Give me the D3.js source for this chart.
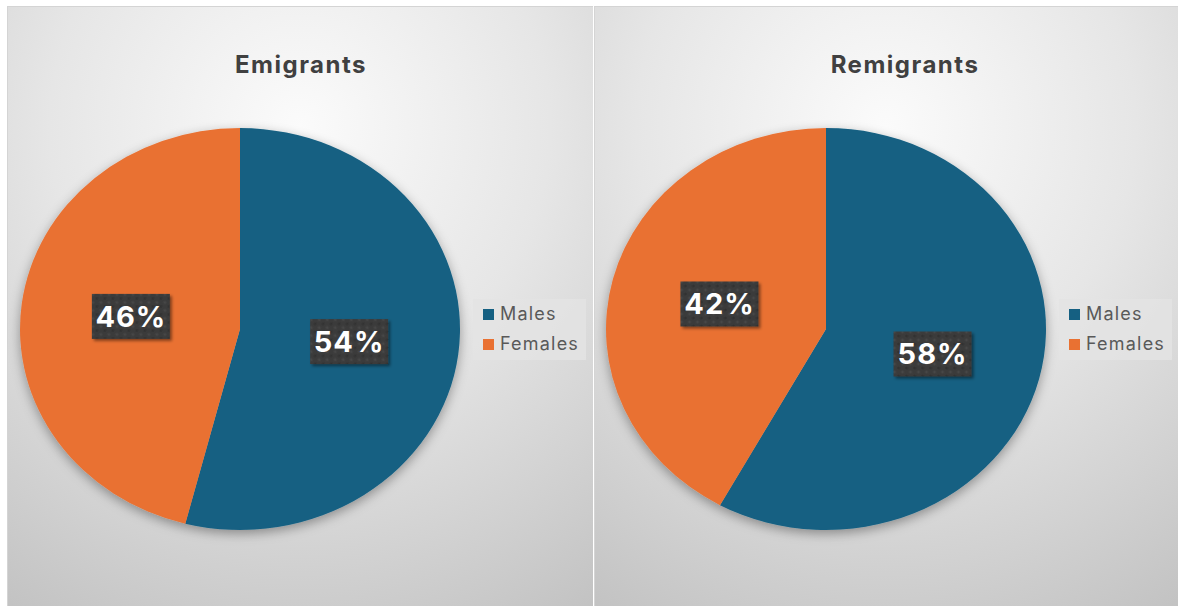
<!DOCTYPE html>
<html>
<head>
<meta charset="utf-8">
<script src="https://cdn.jsdelivr.net/npm/d3@7"></script>
<style>
  html, body { margin: 0; padding: 0; background: #ffffff; }
  svg { display: block; }
  text { font-family: Inter, "Open Sans", "Noto Sans", sans-serif; }
</style>
</head>
<body>
<svg id="chart" width="1178" height="606"></svg>
<script>
// Gender split of emigrants and remigrants
const categories = ["Males", "Females"];
const emigrantShares = [54, 46];
const remigrantShares = [58, 42];
const chartTitles = ["Emigrants", "Remigrants"];
const colors = ["#156082", "#E97132"];

const panels = [
  { title: chartTitles[0], values: emigrantShares, x0: 7, x1: 593, cx: 240, titleX: 301, legendX: 473 },
  { title: chartTitles[1], values: remigrantShares, x0: 594, x1: 1178, cx: 826, titleX: 905, legendX: 1059 }
];

const svg = d3.select("#chart");
const defs = svg.append("defs");

// Panel background gradient
const bg = defs.append("radialGradient")
  .attr("id", "panelBg")
  .attr("cx", "50%").attr("cy", "20%").attr("r", "95%")
  .attr("fx", "50%").attr("fy", "20%");
bg.append("stop").attr("offset", "0%").attr("stop-color", "#fbfbfb");
bg.append("stop").attr("offset", "45%").attr("stop-color", "#e6e6e6");
bg.append("stop").attr("offset", "100%").attr("stop-color", "#c2c2c2");

// Soft shadow under the pies
const pieShadow = defs.append("filter").attr("id", "pieShadow")
  .attr("x", "-20%").attr("y", "-20%").attr("width", "140%").attr("height", "140%");
pieShadow.append("feDropShadow")
  .attr("dx", 0).attr("dy", 4).attr("stdDeviation", 6)
  .attr("flood-color", "#000").attr("flood-opacity", 0.35);

// Shadow for the value labels
const labelShadow = defs.append("filter").attr("id", "labelShadow")
  .attr("x", "-20%").attr("y", "-20%").attr("width", "150%").attr("height", "150%");
labelShadow.append("feDropShadow")
  .attr("dx", 2).attr("dy", 2).attr("stdDeviation", 1.5)
  .attr("flood-color", "#000").attr("flood-opacity", 0.45);

// Textured dark fill for the label boxes
const tex = defs.append("pattern").attr("id", "labelTexture")
  .attr("width", 8).attr("height", 8).attr("patternUnits", "userSpaceOnUse");
tex.append("rect").attr("width", 8).attr("height", 8).attr("fill", "#3b3b3b");
tex.append("circle").attr("cx", 2).attr("cy", 2).attr("r", 1.6).attr("fill", "#464646");
tex.append("circle").attr("cx", 6).attr("cy", 6).attr("r", 1.6).attr("fill", "#333333");

const cy = 329, rx = 220, ry = 201;
const pie = d3.pie().sort(null).value(d => d);
const arc = d3.arc().innerRadius(0).outerRadius(rx);

panels.forEach(p => {
  const g = svg.append("g");

  g.append("rect")
    .attr("x", p.x0).attr("y", 7)
    .attr("width", p.x1 - p.x0).attr("height", 606 - 7)
    .attr("fill", "url(#panelBg)");
  g.append("line")
    .attr("x1", p.x0).attr("x2", p.x1).attr("y1", 6.5).attr("y2", 6.5)
    .attr("stroke", "#d4d4d4").attr("stroke-width", 1);
  g.append("line")
    .attr("x1", p.x0 + 0.5).attr("x2", p.x0 + 0.5).attr("y1", 6).attr("y2", 606)
    .attr("stroke", "#d4d4d4").attr("stroke-width", 1);

  g.append("text")
    .attr("x", p.titleX).attr("y", 73)
    .attr("text-anchor", "middle")
    .attr("font-size", 24).attr("font-weight", 700)
    .attr("letter-spacing", 1.5)
    .attr("fill", "#404040")
    .text(p.title);

  const arcs = pie(p.values);
  const sy = ry / rx;

  const pieG = g.append("g")
    .attr("transform", `translate(${p.cx},${cy}) scale(1,${sy})`)
    .attr("filter", "url(#pieShadow)");
  pieG.selectAll("path")
    .data(arcs)
    .join("path")
    .attr("d", arc)
    .attr("fill", (d, i) => colors[i]);

  // Value labels at half radius along each slice's mid angle
  const labelArc = d3.arc().innerRadius(rx * 0.5).outerRadius(rx * 0.5);
  arcs.forEach((d, i) => {
    const [lx, lyRaw] = labelArc.centroid(d);
    const x = p.cx + lx, y = cy + lyRaw * sy;
    const bw = 78, bh = 45;
    const lg = g.append("g").attr("transform", `translate(${x},${y})`);
    lg.append("rect")
      .attr("x", -bw / 2).attr("y", -bh / 2)
      .attr("width", bw).attr("height", bh)
      .attr("fill", "url(#labelTexture)")
      .attr("filter", "url(#labelShadow)");
    lg.append("text")
      .attr("text-anchor", "middle")
      .attr("dy", "0.36em")
      .attr("font-size", 29).attr("font-weight", 700)
      .attr("letter-spacing", 1)
      .attr("fill", "#ffffff")
      .text(d.data + "%");
  });

  // Legend
  const lgd = g.append("g").attr("transform", `translate(${p.legendX},299)`);
  lgd.append("rect")
    .attr("width", 113).attr("height", 61)
    .attr("fill", "#e4e4e4").attr("fill-opacity", 0.8);
  categories.forEach((c, i) => {
    const row = lgd.append("g").attr("transform", `translate(0,${15 + i * 30})`);
    row.append("rect")
      .attr("x", 10).attr("y", -5)
      .attr("width", 11).attr("height", 11)
      .attr("fill", colors[i]);
    row.append("text")
      .attr("x", 27).attr("y", 0)
      .attr("dy", "0.36em")
      .attr("font-size", 18)
      .attr("letter-spacing", 1.2)
      .attr("fill", "#595959")
      .text(c);
  });
});
</script>
</body>
</html>
